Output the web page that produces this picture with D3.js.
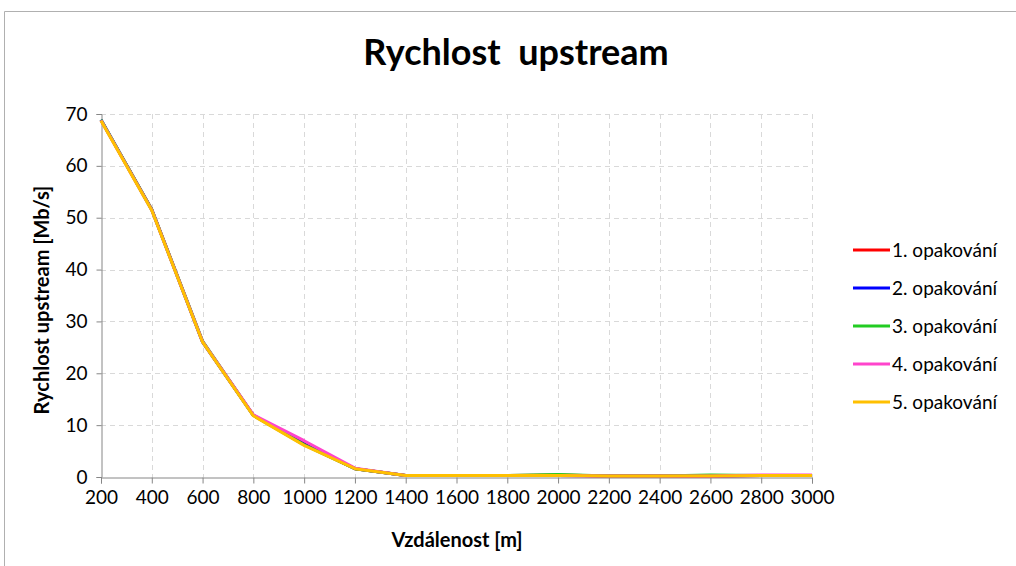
<!DOCTYPE html>
<html><head><meta charset="utf-8">
<script src="https://cdn.jsdelivr.net/npm/d3@7"></script>
<style>body{margin:0;background:#fff}svg{display:block;font-family:Lato,"Open Sans",sans-serif}</style>
</head><body><svg id="c" width="1016" height="566"></svg>
<script>
const distances = [200,400,600,800,1000,1200,1400,1600,1800,2000,2200,2400,2600,2800,3000];
const rep1 = [68.8,51.6,26.1,11.9,6.4,1.6,0.3,0.3,0.3,0.4,0.2,0.2,0.2,0.3,0.3];
const rep2 = [68.9,51.5,26.0,11.9,6.3,1.6,0.3,0.3,0.3,0.3,0.2,0.2,0.2,0.3,0.3];
const rep3 = [68.9,51.6,26.2,11.9,6.2,1.6,0.3,0.3,0.3,0.5,0.2,0.2,0.4,0.3,0.3];
const rep4 = [68.8,51.5,26.1,12.0,7.0,1.7,0.3,0.3,0.3,0.3,0.2,0.2,0.2,0.4,0.4];
const rep5 = [68.7,51.4,26.0,11.8,6.1,1.6,0.3,0.3,0.3,0.3,0.2,0.2,0.2,0.3,0.3];
const seriesNames = ["1. opakování","2. opakování","3. opakování","4. opakování","5. opakování"];
const seriesColors = ["#ff0000","#0000ff","#22cc22","#ff44cc","#ffc000"];
const yTicks = [0,10,20,30,40,50,60,70];
const titleText = "Rychlost  upstream";
const xTitle = "Vzdálenost [m]";
const yTitle = "Rychlost upstream [Mb/s]";
const allSeries = [rep1,rep2,rep3,rep4,rep5];

const svg = d3.select("#c");
svg.append("path").attr("d","M4.5,566 L4.5,11.5 L1016,11.5").attr("fill","none").attr("stroke","#b0b0b0").attr("stroke-width",1);

const L=101,R=812,T=114,B=477;
const x = d3.scaleLinear().domain([200,3000]).range([L,R]);
const y = d3.scaleLinear().domain([0,70]).range([B,T]);

const grid = svg.append("g").attr("stroke","#d9d9d9").attr("stroke-dasharray","5,4").attr("stroke-width",1);
distances.slice(1).forEach(d=>grid.append("line").attr("x1",Math.round(x(d))+0.5).attr("x2",Math.round(x(d))+0.5).attr("y1",T).attr("y2",B));
yTicks.slice(1).forEach(v=>grid.append("line").attr("x1",L).attr("x2",R).attr("y1",Math.round(y(v))+0.5).attr("y2",Math.round(y(v))+0.5));

const xa = svg.append("g").attr("transform",`translate(0,${B+0.5})`)
  .call(d3.axisBottom(x).tickValues(distances).tickSize(6).tickPadding(7).tickFormat(d3.format("d")));
const ya = svg.append("g").attr("transform",`translate(${L+0.5},0)`)
  .call(d3.axisLeft(y).tickValues(yTicks).tickSize(5).tickPadding(9).tickFormat(d3.format("d")));
[xa,ya].forEach(a=>{a.select(".domain").attr("stroke","#868686");a.selectAll(".tick line").attr("stroke","#868686");
  a.selectAll("text").attr("font-size",19).attr("fill","#000").attr("font-family","Lato,sans-serif");});

const line = d3.line().x((d,i)=>x(distances[i])).y(d=>y(d));
allSeries.forEach((s,k)=>{
  svg.append("path").datum(s).attr("d",line).attr("fill","none").attr("stroke",seriesColors[k]).attr("stroke-width",3).attr("stroke-linejoin","round");
});

svg.append("text").attr("x",516).attr("y",65).attr("text-anchor","middle").attr("font-size",36).attr("font-weight","bold").attr("fill","#000").style("white-space","pre").text(titleText);
svg.append("text").attr("x",457).attr("y",547).attr("text-anchor","middle").attr("font-size",20).attr("font-weight","bold").text(xTitle);
svg.append("text").attr("transform","translate(49,300) rotate(-90)").attr("text-anchor","middle").attr("font-size",20).attr("font-weight","bold").text(yTitle);

const lg = svg.append("g");
seriesNames.forEach((n,k)=>{
  const yy = 250 + k*38;
  lg.append("line").attr("x1",853).attr("x2",890).attr("y1",yy).attr("y2",yy).attr("stroke",seriesColors[k]).attr("stroke-width",3);
  lg.append("text").attr("x",892).attr("y",yy+7).attr("font-size",19).attr("fill","#000").text(n);
});
</script></body></html>
